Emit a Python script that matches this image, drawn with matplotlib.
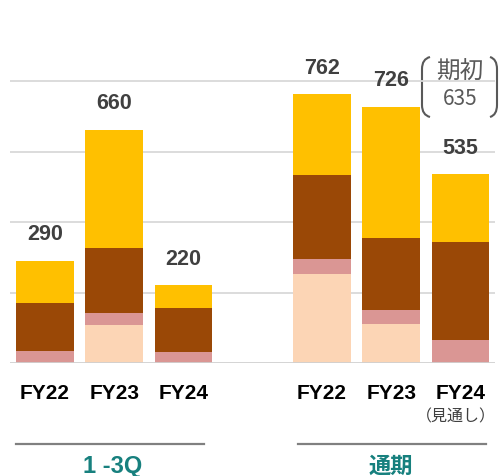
import matplotlib
matplotlib.use("Agg")
from matplotlib import pyplot as plt
from matplotlib.path import Path
from matplotlib.patches import PathPatch
from matplotlib.transforms import blended_transform_factory

# bar data, bottom -> top segments
xpos = [0, 1, 2, 4, 5, 6]
labels = ["FY22", "FY23", "FY24", "FY22", "FY23", "FY24"]
peach = [0, 108, 0, 253, 110, 0]
pink = [34, 34, 31, 42, 39, 64]
brown = [136, 184, 125, 238, 207, 280]
yellow = [120, 334, 64, 229, 370, 191]
totals = [290, 660, 220, 762, 726, 535]
groups = ["1 -3Q", "通期"]

colors = ["#FCD5B5", "#DA9694", "#9A4806", "#FFC000"]
jp = ["Noto Sans CJK JP", "DejaVu Sans"]

fig = plt.figure(figsize=(4.99, 4.77), dpi=100)
ax = fig.add_axes([10 / 499, 113 / 477, 485 / 499, 352.5 / 477])
ov = fig.add_axes([0, 0, 1, 1], zorder=-1)
ov.set_xlim(0, 499)
ov.set_ylim(477, 0)
ov.axis("off")

bottom = [0] * 6
for seg, c in zip([peach, pink, brown, yellow], colors):
    ax.bar(xpos, seg, width=0.834, bottom=bottom, color=c, zorder=3)
    bottom = [b + s for b, s in zip(bottom, seg)]

ax.set_xlim(-0.505, 6.5)
ax.set_ylim(0, 1000)
for g in [200, 400, 600, 800]:
    ax.axhline(g, color="#D9D9D9", lw=1.3, zorder=1)
ax.axhline(0, color="#D0D0D0", lw=2, zorder=4)
for s in ax.spines.values():
    s.set_visible(False)
ax.set_xticks([])
ax.set_yticks([])
ax.patch.set_alpha(0)

# totals above the bars
for x, t in zip(xpos, totals):
    ax.text(x, t + 62, str(t), ha="center", va="baseline", fontsize=15.5,
            fontweight="bold", color="#404040", family="Liberation Sans")

# x labels
tr = blended_transform_factory(ax.transData, ov.transData)
for x, l in zip(xpos, labels):
    ax.text(x, 399.3, l, transform=tr, ha="center", va="baseline", fontsize=15,
            fontweight="bold", color="black", family="Liberation Sans")
ov.text(456, 417, "（見通し）", ha="center", va="center",
        fontsize=11.5, color="#404040", family=jp)

# group lines and names
ov.plot([16, 204], [445, 445], color="#808080", lw=1.6)
ov.plot([298, 486], [445, 445], color="#808080", lw=1.6)
ov.text(113, 473, groups[0], ha="center", va="baseline", fontsize=17,
        fontweight="bold", color="#17807E", family="Liberation Sans")
ov.text(390.5, 466, groups[1], ha="center", va="center", fontsize=16,
        fontweight="bold", color="#17807E", family=jp)

# initial forecast note
ov.text(460, 72, "期初", ha="center", va="center", fontsize=17,
        color="#595959", family=jp, zorder=5)
ov.text(460, 105, "635", ha="center", va="baseline", fontsize=15,
        color="#595959", family=jp, zorder=5)
left = Path([(430, 58), (422, 60), (422, 70), (422, 106), (422, 116), (430, 118)],
            [Path.MOVETO, Path.CURVE3, Path.CURVE3, Path.LINETO, Path.CURVE3, Path.CURVE3])
right = Path([(490, 58), (497, 60), (497, 70), (497, 106), (497, 116), (490, 118)],
             [Path.MOVETO, Path.CURVE3, Path.CURVE3, Path.LINETO, Path.CURVE3, Path.CURVE3])
ov.add_patch(PathPatch(left, fill=False, ec="#595959", lw=1.5))
ov.add_patch(PathPatch(right, fill=False, ec="#595959", lw=1.5))

fig.savefig("out.png", dpi=100)
